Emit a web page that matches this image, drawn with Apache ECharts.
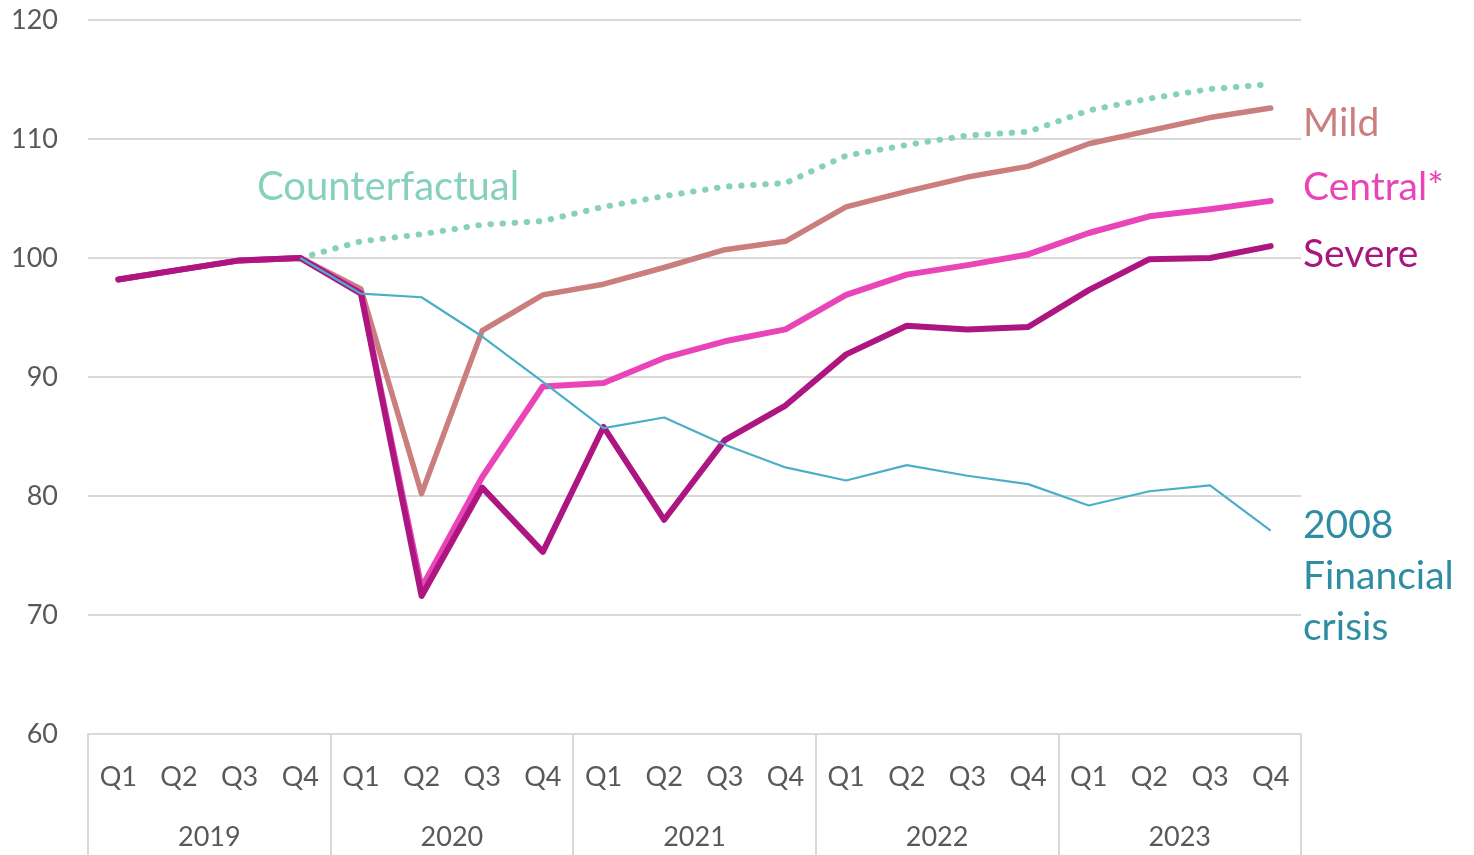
<!DOCTYPE html>
<html>
<head>
<meta charset="utf-8">
<script src="https://cdn.jsdelivr.net/npm/echarts@6/dist/echarts.min.js"></script>
<style>
html,body{margin:0;padding:0;background:#fff;}
#chart{width:1474px;height:855px;}
</style>
</head>
<body>
<div id="chart"></div>
<script>
// ---- data ----
const quarters = ['Q1','Q2','Q3','Q4','Q1','Q2','Q3','Q4','Q1','Q2','Q3','Q4','Q1','Q2','Q3','Q4','Q1','Q2','Q3','Q4'];
const years = ['2019','2020','2021','2022','2023'];
const yTicks = {min: 60, max: 120, interval: 10};

const severe = [98.2, 99.0, 99.8, 100.0, 97.0, 71.6, 80.7, 75.3, 85.8, 78.0, 84.7, 87.6, 91.9, 94.3, 94.0, 94.2, 97.3, 99.9, 100.0, 101.0];
const central = [98.2, 99.0, 99.8, 100.0, 97.1, 72.3, 81.6, 89.2, 89.5, 91.6, 93.0, 94.0, 96.9, 98.6, 99.4, 100.3, 102.1, 103.5, 104.1, 104.8];
const mild = [98.2, 99.0, 99.8, 100.0, 97.4, 80.2, 93.9, 96.9, 97.8, 99.2, 100.7, 101.4, 104.3, 105.6, 106.8, 107.7, 109.6, 110.7, 111.8, 112.6];
const counterfactual = [null, null, null, 100.0, 101.4, 102.0, 102.8, 103.1, 104.3, 105.2, 106.0, 106.3, 108.6, 109.5, 110.3, 110.6, 112.4, 113.4, 114.2, 114.6];
const crisis2008 = [null, null, null, 100.0, 97.0, 96.7, 93.4, 89.6, 85.7, 86.6, 84.3, 82.4, 81.3, 82.6, 81.7, 81.0, 79.2, 80.4, 80.9, 77.1];

const seriesNames = ['Counterfactual', 'Mild', 'Central*', 'Severe', '2008 Financial crisis'];

// ---- chart ----
const FONT = 'Lato, "Noto Sans", sans-serif';
const chart = echarts.init(document.getElementById('chart'), null, {renderer: 'canvas'});

const label = (text, x, y, color, size) => ({
  type: 'text', left: x, top: y,
  style: {text: text, fill: color, font: size + 'px ' + FONT}
});

chart.setOption({
  animation: false,
  backgroundColor: '#ffffff',
  grid: {left: 88, right: 173, top: 20, bottom: 121, containLabel: false},
  xAxis: [
    {
      type: 'category', data: quarters, position: 'bottom', boundaryGap: true,
      axisLine: {show: true, lineStyle: {color: '#d9d9d9', width: 2}},
      axisTick: {show: false},
      axisLabel: {color: '#595959', fontSize: 27, fontFamily: FONT, margin: 30, interval: 0},
      splitLine: {show: false}
    },
    {
      type: 'category', data: years, position: 'bottom', boundaryGap: true, gridIndex: 0,
      axisLine: {show: false},
      axisTick: {show: true, length: 125, interval: 0, lineStyle: {color: '#d9d9d9', width: 2}},
      axisLabel: {color: '#595959', fontSize: 27, fontFamily: FONT, margin: 90, interval: 0},
      splitLine: {show: false}
    }
  ],
  yAxis: {
    type: 'value', min: yTicks.min, max: yTicks.max, interval: yTicks.interval,
    axisLine: {show: false}, axisTick: {show: false},
    axisLabel: {color: '#595959', fontSize: 27, fontFamily: FONT, margin: 30},
    splitLine: {show: true, lineStyle: {color: '#d9d9d9', width: 2}}
  },
  series: [
    {
      name: seriesNames[0], type: 'line', data: counterfactual, xAxisIndex: 0,
      symbol: 'none', connectNulls: false,
      lineStyle: {color: '#86d0bd', width: 6, type: [0.5, 11.6], cap: 'round'}
    },
    {
      name: seriesNames[1], type: 'line', data: mild, xAxisIndex: 0, symbol: 'none',
      lineStyle: {color: '#cb7e7e', width: 5.5, cap: 'round', join: 'round'}
    },
    {
      name: seriesNames[2], type: 'line', data: central, xAxisIndex: 0, symbol: 'none',
      lineStyle: {color: '#ea45b8', width: 6, cap: 'round', join: 'round'}
    },
    {
      name: seriesNames[3], type: 'line', data: severe, xAxisIndex: 0, symbol: 'none',
      lineStyle: {color: '#ad1680', width: 6, cap: 'round', join: 'round'}
    },
    {
      name: seriesNames[4], type: 'line', data: crisis2008, xAxisIndex: 0, symbol: 'none',
      lineStyle: {color: '#4aaec9', width: 2.2, join: 'round'}
    }
  ],
  graphic: [
    label('Counterfactual', 257, 167, '#86d0bd', 40),
    label('Mild', 1303, 104, '#cb7e7e', 39),
    label('Central*', 1303, 168, '#ea45b8', 39),
    label('Severe', 1303, 235, '#a8177f', 39),
    {
      type: 'text', left: 1303, top: 500,
      style: {text: '2008\nFinancial\ncrisis', fill: '#2f8da3', font: '39px ' + FONT, lineHeight: 51}
    }
  ]
});
</script>
</body>
</html>
